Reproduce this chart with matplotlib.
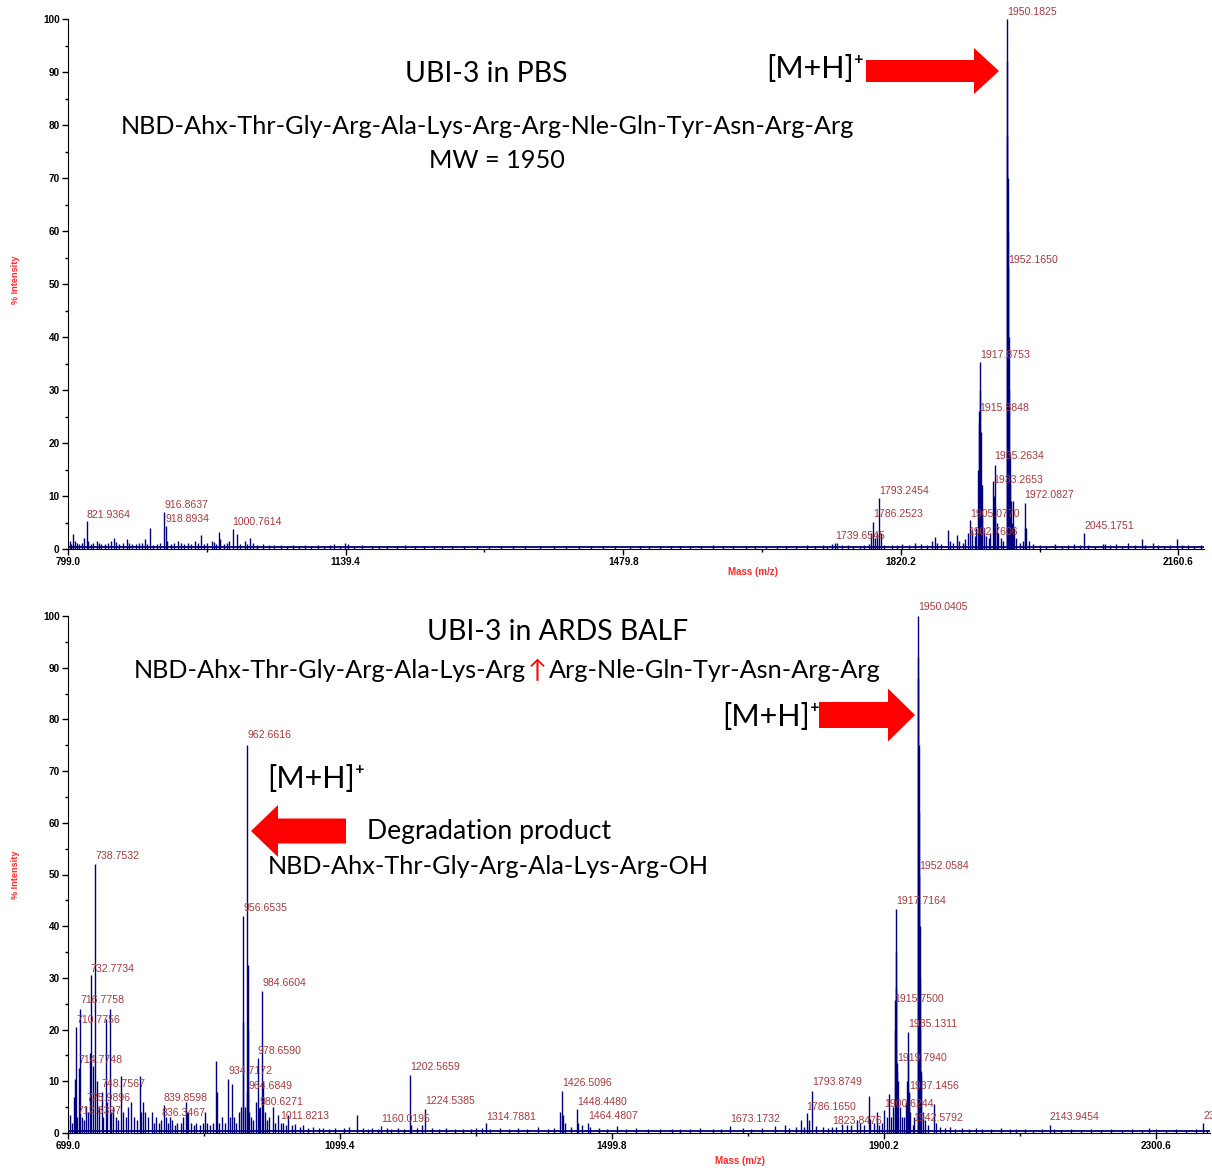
import matplotlib
matplotlib.use("Agg")
import matplotlib.pyplot as plt
from matplotlib.patches import FancyArrow

# ==============================
# DATA: UBI-3 in PBS (top spectrum)
# ==============================
PBS_LABEL_MZ = [821.9364, 916.8637, 918.8934, 1000.7614, 1739.6545, 1786.2523,
                1793.2454, 1902.7606, 1905.0770, 1915.8848, 1917.8753, 1933.2653,
                1935.2634, 1950.1825, 1952.1650, 1972.0827, 2045.1751]
PBS_LABEL_INT = [5.2, 7.0, 4.3, 3.8, 1.1, 5.1, 9.6, 3.0, 5.5, 26.0, 35.3, 12.9,
                 15.8, 100.0, 53.0, 8.7, 3.0]

# unlabelled peaks, shoulders and baseline noise
PBS_MZ = [801, 803, 805.5, 807, 810, 813, 816, 819, 824, 827, 830, 834, 837, 840, 844,
          848, 852, 855.4, 858, 862, 866, 871, 874, 878, 882, 886, 890, 893.4, 896,
          899.5, 903, 908, 912, 921, 925, 929, 934.3, 937, 941, 946, 950, 954.7, 958,
          962, 966, 970, 975.2, 978, 981, 984.2, 986, 990, 994, 997, 1006.6, 1010,
          1016, 1019, 1022.2, 1026, 1031, 1038.5, 1045, 1052, 1060, 1068, 1075, 1082,
          1090, 1097, 1105, 1113, 1120, 1125, 1132, 1139, 1142, 1150, 1160, 1172,
          1180, 1190, 1202, 1212, 1225, 1235, 1248, 1258, 1270, 1285, 1300, 1315,
          1330, 1345, 1360, 1378, 1395, 1410, 1425, 1440, 1455, 1470, 1488, 1500,
          1512, 1525, 1538, 1550, 1562, 1575, 1590, 1602, 1615, 1630, 1642, 1655,
          1668, 1680, 1692, 1705, 1715, 1725, 1730, 1736, 1741.6, 1748, 1755.8, 1762,
          1770, 1775, 1781, 1784, 1788, 1791, 1796, 1800, 1809, 1815, 1822, 1830,
          1837.6, 1845, 1852, 1858, 1862, 1865, 1870, 1877.6, 1880, 1884, 1888.6,
          1892, 1896, 1899, 1908, 1911, 1913, 1914.9, 1916.4, 1917.2, 1918.5, 1919.2,
          1920, 1922, 1925, 1928, 1930, 1934, 1936.2, 1938, 1940, 1943, 1946,
          1950.45, 1950.8, 1951.3, 1951.7, 1952.6, 1953.2, 1953.8, 1954.5, 1955.5,
          1956.3, 1957.2, 1959, 1962, 1966, 1970, 1973, 1974, 1977, 1982, 1991,
          1998, 2009.3, 2018, 2025, 2032.6, 2040, 2050, 2058, 2067.8, 2070, 2077,
          2083.7, 2092, 2099.2, 2107, 2115.6, 2120, 2129.9, 2136, 2143, 2150,
          2158.5, 2165, 2172, 2180, 2188]
PBS_INT = [1.5, 1.0, 2.8, 1.5, 1.2, 1.0, 1.2, 2.0, 1.5, 1.0, 1.2, 1.5, 1.2, 1.0, 0.9,
           1.2, 1.5, 2.0, 1.3, 1.0, 1.1, 1.8, 1.2, 1.0, 0.9, 1.2, 1.1, 1.8, 1.0,
           4.0, 0.8, 1.0, 1.2, 1.5, 1.0, 1.2, 1.5, 1.2, 1.0, 1.1, 1.0, 1.5, 1.2,
           2.7, 1.0, 1.1, 1.5, 1.3, 1.0, 3.2, 1.8, 1.0, 1.2, 1.5, 2.8, 1.0,
           1.5, 1.0, 2.0, 1.2, 0.8, 1.0, 0.8, 0.7, 0.8, 0.6, 0.7, 0.6,
           0.8, 0.6, 0.7, 0.6, 0.8, 0.9, 0.6, 1.2, 0.9, 0.6, 0.7, 0.6,
           0.5, 0.6, 0.5, 0.7, 0.5, 0.6, 0.5, 0.5, 0.6, 0.5, 0.6, 0.5,
           0.5, 0.5, 0.5, 0.5, 0.5, 0.5, 0.5, 0.5, 0.5, 0.5, 0.6, 0.6,
           0.5, 0.6, 0.5, 0.6, 0.5, 0.6, 0.7, 0.5, 0.6, 0.6, 0.5, 0.6,
           0.6, 0.5, 0.6, 0.7, 0.6, 0.8, 0.6, 0.9, 1.1, 0.7, 0.8, 0.6,
           0.6, 0.7, 1.0, 3.0, 2.0, 3.0, 3.0, 0.8, 0.8, 0.7, 0.9, 0.8,
           1.2, 0.9, 0.8, 1.5, 2.2, 1.2, 1.0, 3.5, 1.5, 1.2, 2.6,
           1.5, 1.2, 1.8, 3.5, 2.5, 4.0, 15.0, 24.0, 30.0, 22.0, 12.0,
           6.0, 4.0, 2.5, 2.0, 3.0, 10.0, 8.0, 5.0, 3.0, 2.0, 1.5,
           92.0, 78.0, 70.0, 60.0, 40.0, 30.0, 18.0, 12.0, 9.0,
           5.0, 9.0, 4.0, 2.0, 1.2, 1.5, 4.0, 4.0, 1.5, 1.0, 0.7,
           0.6, 1.0, 0.6, 0.7, 1.0, 0.7, 0.8, 0.6, 1.0, 0.9, 0.7,
           1.0, 0.6, 1.2, 0.7, 1.8, 0.8, 1.1, 0.7, 0.6, 0.7,
           1.8, 0.7, 0.8, 0.6, 0.7]

# ==============================
# DATA: UBI-3 in ARDS BALF (bottom spectrum)
# ==============================
BALF_LABEL_MZ = [710.7756, 712.8397, 714.7748, 716.7758, 725.9896, 732.7734, 738.7532,
                 748.7567, 836.3467, 839.8598, 934.7172, 956.6535, 962.6616, 964.6849,
                 978.6590, 980.6271, 984.6604, 1011.8213, 1160.0195, 1202.5659,
                 1224.5385, 1314.7881, 1426.5096, 1448.4480, 1464.4807, 1673.1732,
                 1786.1650, 1793.8749, 1823.8476, 1900.6244, 1915.7500, 1917.7164,
                 1919.7940, 1935.1311, 1937.1456, 1942.5792, 1950.0405, 1952.0584,
                 2143.9454, 2369.8412]
BALF_LABEL_INT = [20.5, 3.0, 12.5, 24.0, 5.3, 30.5, 52.0, 8.0, 2.5, 5.5, 10.5, 42.0,
                  75.0, 7.8, 14.5, 4.8, 27.5, 2.0, 1.4, 11.2, 4.6, 2.0, 8.2, 4.6,
                  2.0, 1.4, 3.8, 8.2, 1.2, 4.4, 25.7, 43.3, 13.5, 19.5, 7.8, 1.6,
                  100.0, 50.0, 1.5, 2.0]

BALF_MZ = [702, 704.5, 707.8, 709.7, 720, 722.5, 728, 731.3, 736.2, 742, 745, 751, 754.8,
           757, 760.8, 763, 765.6, 770, 773, 776.9, 780, 784, 787.7, 792, 796, 800,
           804.8, 807, 809.7, 813, 817, 822, 826, 829, 833, 843, 846, 848.8, 852, 856,
           860, 866, 869, 872, 874, 876, 880, 884, 888, 893, 897, 900, 904, 908, 912,
           916.3, 918.8, 922, 926, 930, 937, 939.9, 944, 947, 950, 953, 957.3, 960,
           962.2, 963.3, 963.7, 966, 969, 972, 975, 982, 986, 989, 992, 995, 1000.7,
           1004, 1008, 1015, 1020, 1023, 1028, 1033, 1040, 1045, 1052, 1060, 1068,
           1075, 1083, 1092, 1105, 1113, 1124, 1133, 1140, 1146, 1155, 1168, 1175,
           1185, 1193, 1203.9, 1212, 1219.6, 1235, 1245, 1255, 1268, 1280, 1292,
           1300, 1308.5, 1320, 1335, 1348, 1362, 1375, 1391, 1405, 1415, 1423, 1428,
           1430, 1440, 1450, 1456, 1468, 1480, 1492, 1506.6, 1520, 1535, 1553, 1570,
           1588, 1600, 1615, 1630, 1648, 1660, 1693, 1705, 1720, 1739.6, 1754, 1760,
           1770, 1778, 1782, 1790, 1800, 1810.7, 1818, 1830, 1837.7, 1845, 1852,
           1860.8, 1865, 1870, 1877.4, 1880, 1885, 1889.2, 1893, 1897, 1904, 1907.3,
           1910, 1913, 1916.3, 1917.1, 1918.4, 1918.9, 1920.5, 1923, 1926, 1930,
           1932, 1934.2, 1935.7, 1936.4, 1939, 1945, 1950.4, 1950.8, 1951.3,
           1951.6, 1952.5, 1953, 1953.6, 1954.3, 1955.3, 1957, 1960, 1965, 1973.6,
           1976, 1982, 1990, 1998, 2005, 2015, 2025, 2035, 2045, 2058, 2071.8, 2085,
           2095, 2108, 2120, 2132, 2150, 2160, 2175, 2190, 2205, 2220, 2235, 2250,
           2265, 2280, 2289.7, 2300, 2315, 2330, 2345, 2360, 2375]
BALF_INT = [3.5, 2.0, 7.0, 10.5, 3.0, 2.5, 4.0, 15.5, 13.0, 10.0, 5.0, 3.0, 22.0,
            6.0, 24.0, 4.0, 5.0, 3.0, 2.5, 11.0, 4.0, 3.0, 5.0, 6.0, 3.0, 2.5,
            11.0, 4.0, 6.0, 4.0, 3.0, 4.0, 2.0, 3.0, 2.0, 3.0, 2.0, 3.0, 2.5, 1.5,
            2.0, 2.0, 3.0, 6.0, 4.0, 4.0, 2.0, 1.5, 2.0, 1.5, 2.0, 4.0, 2.0, 1.5, 2.0,
            14.0, 8.0, 2.0, 3.0, 2.0, 3.0, 9.5, 3.0, 2.0, 4.0, 5.0, 21.5, 5.0,
            8.0, 32.5, 20.0, 4.0, 3.0, 2.5, 6.0, 5.0, 10.0, 4.0, 2.5, 3.0, 5.0,
            2.0, 3.5, 2.0, 1.5, 3.5, 1.5, 1.8, 1.2, 1.5, 1.0, 1.2, 0.9,
            1.0, 0.8, 1.0, 0.9, 1.1, 3.5, 1.0, 0.8, 1.0, 0.8, 0.9, 0.7,
            1.0, 0.8, 1.5, 0.9, 1.5, 1.0, 0.8, 0.9, 0.7, 0.8, 0.7,
            1.0, 1.0, 0.8, 0.9, 0.7, 1.0, 0.8, 1.2, 0.8, 0.9, 4.0, 3.5,
            2.0, 1.2, 2.0, 1.6, 1.2, 0.9, 0.8, 1.3, 0.8, 0.9, 0.8, 0.7,
            0.8, 0.7, 0.8, 0.9, 0.7, 0.8, 1.0, 0.8, 0.9, 1.3, 1.6, 1.0,
            1.2, 2.6, 1.2, 2.5, 1.3, 1.2, 1.0, 1.2, 1.7, 1.5, 1.5,
            2.5, 2.0, 1.5, 7.1, 2.8, 2.0, 4.0, 1.5, 2.0, 3.0, 7.5,
            3.0, 5.0, 20.0, 35.0, 28.0, 12.0, 10.0, 5.0, 3.0, 3.0,
            6.0, 10.0, 15.0, 8.0, 4.0, 3.0, 92.0, 88.0, 75.0,
            62.0, 40.0, 30.0, 20.0, 12.0, 11.0, 4.0, 2.5, 1.5, 5.6,
            2.0, 1.2, 1.0, 1.2, 0.8, 1.0, 0.8, 1.0, 0.7, 0.8, 1.0, 0.7,
            0.8, 0.7, 0.6, 0.8, 0.7, 0.6, 0.7, 0.6, 0.8, 0.6, 0.7, 0.6,
            0.8, 0.6, 0.9, 0.7, 0.6, 0.7, 0.6, 0.7, 0.6]

BASELINE = 0.35

PBS_TICKS = [799.0, 1139.4, 1479.8, 1820.2, 2160.6]
BALF_TICKS = [699.0, 1099.4, 1499.8, 1900.2, 2300.6]

# label heights (text bottom, % units) -- layout, chosen to match the instrument printout
PBS_LABEL_Y = [5.5, 7.4, 4.7, 4.2, 1.5, 5.7, 10.0, 2.3, 5.7, 25.7, 35.7, 12.1, 16.6,
               100.4, 53.6, 9.2, 3.4]
BALF_LABEL_Y = [20.9, 3.3, 13.2, 24.8, 5.8, 30.8, 52.6, 8.5, 2.9, 5.8, 11.0, 42.6,
                76.0, 8.1, 14.9, 5.0, 28.0, 2.3, 1.7, 11.8, 5.2, 2.1, 8.7, 5.0, 2.3,
                1.7, 4.1, 8.9, 1.4, 4.6, 25.0, 43.9, 13.5, 20.1, 8.1, 1.9, 100.8,
                50.7, 2.1, 2.3]

W, H = 1212, 1171
NAVY = "#00007f"
LABEL_C = "#a8393b"
AXRED = "#ff2a2a"
ANN_FONT = ["Lato", "DejaVu Sans"]
TICK_FONT = "Liberation Sans"

fig = plt.figure(figsize=(W / 100, H / 100), dpi=100)


def px(x, y):
    return x / W, 1 - y / H


def spectrum(ax, lab_mz, lab_int, lab_y, mz, inten, ticks, xmax):
    ax.vlines(mz, 0, inten, color=NAVY, lw=1.0)
    ax.vlines(lab_mz, 0, lab_int, color=NAVY, lw=1.0)
    ax.axhline(BASELINE, color=NAVY, lw=1.3)
    for m, y in zip(lab_mz, lab_y):
        ax.text(m, y, f"{m:.4f}", fontsize=7.6, color=LABEL_C, family=TICK_FONT,
                ha="left", va="bottom", clip_on=False)
    ax.set_xlim(ticks[0], xmax)
    ax.set_ylim(0, 100)
    for s in ["top", "right"]:
        ax.spines[s].set_visible(False)
    ax.set_xticks(ticks)
    ax.set_xticklabels([f"{t:.1f}" for t in ticks])
    ax.set_xticks([(a + b) / 2 for a, b in zip(ticks[:-1], ticks[1:])], minor=True)
    ax.set_yticks(range(0, 101, 10))
    ax.set_yticks(range(5, 100, 10), minor=True)
    ax.tick_params(which="major", length=4, width=1, labelsize=7.2, pad=2)
    ax.tick_params(which="minor", length=2.5, width=1)
    for lab in ax.get_xticklabels() + ax.get_yticklabels():
        lab.set_fontweight("bold")
        lab.set_family(TICK_FONT)
    ax.set_facecolor("none")


ax1 = fig.add_axes([68 / W, 622 / H, 1136 / W, 530 / H])
spectrum(ax1, PBS_LABEL_MZ, PBS_LABEL_INT, PBS_LABEL_Y, PBS_MZ, PBS_INT, PBS_TICKS, 2192.0)
ax2 = fig.add_axes([68 / W, 38 / H, 1142 / W, 517 / H])
spectrum(ax2, BALF_LABEL_MZ, BALF_LABEL_INT, BALF_LABEL_Y, BALF_MZ, BALF_INT, BALF_TICKS, 2380.0)

# axis titles
for ax, ylab_y, (mx, my) in [(ax1, 280, (753, 572)), (ax2, 875, (740, 1161))]:
    fig.text(*px(16, ylab_y), "% Intensity", rotation=90, color=AXRED, fontsize=6.6,
             fontweight="bold", family=TICK_FONT, ha="center", va="center")
    fig.text(*px(mx, my), "Mass (m/z)", color=AXRED, fontsize=7.0,
             fontweight="bold", family=TICK_FONT, ha="center", va="center")

# annotations
BIG = 20.4
SEQ = 18.2
MH = 22.0


def note(x, y, s, size=SEQ, **kw):
    fig.text(*px(x, y), s, fontsize=size, family=ANN_FONT, ha=kw.pop("ha", "center"),
             va="center", color=kw.pop("color", "black"), **kw)


note(486, 74, "UBI-3 in PBS", BIG)
note(487, 126, "NBD-Ahx-Thr-Gly-Arg-Ala-Lys-Arg-Arg-Nle-Gln-Tyr-Asn-Arg-Arg")
note(497, 160, "MW = 1950")
note(815, 69, "[M+H]\u207a", MH)

note(558, 632, "UBI-3 in ARDS BALF", BIG)
note(526, 671, "NBD-Ahx-Thr-Gly-Arg-Ala-Lys-Arg", ha="right")
note(537, 671, "\u2191", color="red")
note(549, 671, "Arg-Nle-Gln-Tyr-Asn-Arg-Arg", ha="left")
note(771, 717, "[M+H]\u207a", MH)
note(316, 779, "[M+H]\u207a", MH)
note(489, 831, "Degradation product", 19.2)
note(488, 866, "NBD-Ahx-Thr-Gly-Arg-Ala-Lys-Arg-OH")

# red block arrows (pixel layout -> inches)
for x0, x1, yc, bw, hw, hl in [(866, 999, 71, 22, 46, 25),
                               (819, 915, 715, 26, 53, 27),
                               (346, 251, 831, 25, 52, 27)]:
    arr = FancyArrow(x0 / 100, (H - yc) / 100, (x1 - x0) / 100, 0, width=bw / 100,
                     head_width=hw / 100, head_length=hl / 100,
                     length_includes_head=True, color="#ff0000", lw=0,
                     transform=fig.dpi_scale_trans)
    fig.add_artist(arr)

fig.savefig("out.png", dpi=100)
